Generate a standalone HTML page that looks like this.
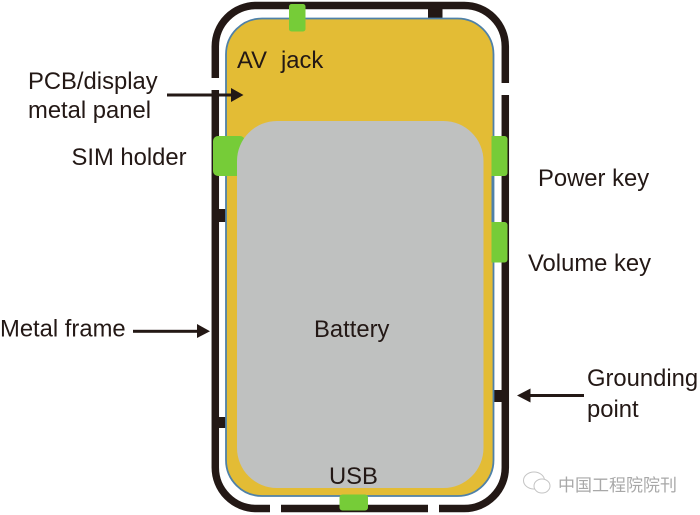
<!DOCTYPE html>
<html>
<head>
<meta charset="utf-8">
<style>
html,body{margin:0;padding:0;background:#fff}
svg{display:block}
text{font-family:"Liberation Sans","Noto Sans CJK SC",sans-serif;fill:#231815;font-size:23.8px}
</style>
</head>
<body>
<svg width="700" height="515" viewBox="0 0 700 515" xmlns="http://www.w3.org/2000/svg">
<rect width="700" height="515" fill="#fff"/>
<!-- frame -->
<rect x="215.3" y="5.5" width="290" height="503" rx="41" ry="41" fill="none" stroke="#231815" stroke-width="7.5"/>
<!-- gaps -->
<rect x="208" y="78" width="16" height="12" fill="#fff"/>
<rect x="498" y="83" width="16" height="12" fill="#fff"/>
<rect x="270" y="500" width="11" height="15" fill="#fff"/>
<rect x="428" y="500" width="11" height="15" fill="#fff"/>
<!-- ticks -->
<rect x="428" y="7" width="14.500" height="12" fill="#231815"/>
<rect x="218" y="209" width="10" height="13" fill="#231815"/>
<rect x="218" y="417" width="10" height="11" fill="#231815"/>
<rect x="490" y="390" width="14" height="12" fill="#231815"/>
<!-- pcb -->
<rect x="226" y="18.500" width="267.500" height="477.500" rx="36" ry="36" fill="#e3bc35" stroke="#4f81a8" stroke-width="1.800"/>
<!-- green -->
<rect x="289" y="4" width="16.500" height="27.500" rx="2.500" fill="#76cc38"/>
<rect x="213" y="136" width="32" height="40" rx="5" fill="#76cc38"/>
<rect x="485" y="136" width="22.500" height="40" rx="3" fill="#76cc38"/>
<rect x="485" y="222" width="22.500" height="40.500" rx="3" fill="#76cc38"/>
<rect x="339.500" y="494.500" width="28.500" height="16" rx="3" fill="#76cc38"/>
<!-- pcb mask beside keys -->
<rect x="485" y="136" width="6.500" height="126.500" fill="#e3bc35"/>
<rect x="491.500" y="176" width="2" height="46" fill="#4f81a8"/>
<!-- battery -->
<rect x="237" y="121" width="246.500" height="367" rx="40" ry="40" fill="#bfc1c0"/>
<!-- labels -->
<text x="237" y="68">AV</text>
<text x="281" y="68">jack</text>
<text x="28" y="89">PCB/display</text>
<text x="28" y="118">metal panel</text>
<text x="71.500" y="165">SIM holder</text>
<text x="538" y="186">Power key</text>
<text x="528" y="271">Volume key</text>
<text x="0" y="336.500">Metal frame</text>
<text x="314" y="337">Battery</text>
<text x="587" y="386">Grounding</text>
<text x="587" y="417">point</text>
<text x="329" y="484">USB</text>
<!-- arrows -->
<g fill="#231815" stroke="none">
<rect x="167" y="93.500" width="65" height="3"/>
<polygon points="231,88 243.500,95 231,102"/>
<rect x="133" y="329.800" width="65" height="3"/>
<polygon points="197,324 210,331.300 197,338"/>
<rect x="530" y="394" width="54" height="3"/>
<polygon points="530.500,388.500 517,395.500 530.500,402.500"/>
</g>
<!-- watermark -->
<g fill="#fff" stroke="#c4c4c4" stroke-width="1">
<ellipse cx="534" cy="480.500" rx="10.500" ry="8.500"/>
<ellipse cx="542" cy="486" rx="8" ry="7"/>
</g>
<text x="558" y="491" style="font-size:17px;fill:#a8a8a8">中国工程院院刊</text>
</svg>
</body>
</html>
